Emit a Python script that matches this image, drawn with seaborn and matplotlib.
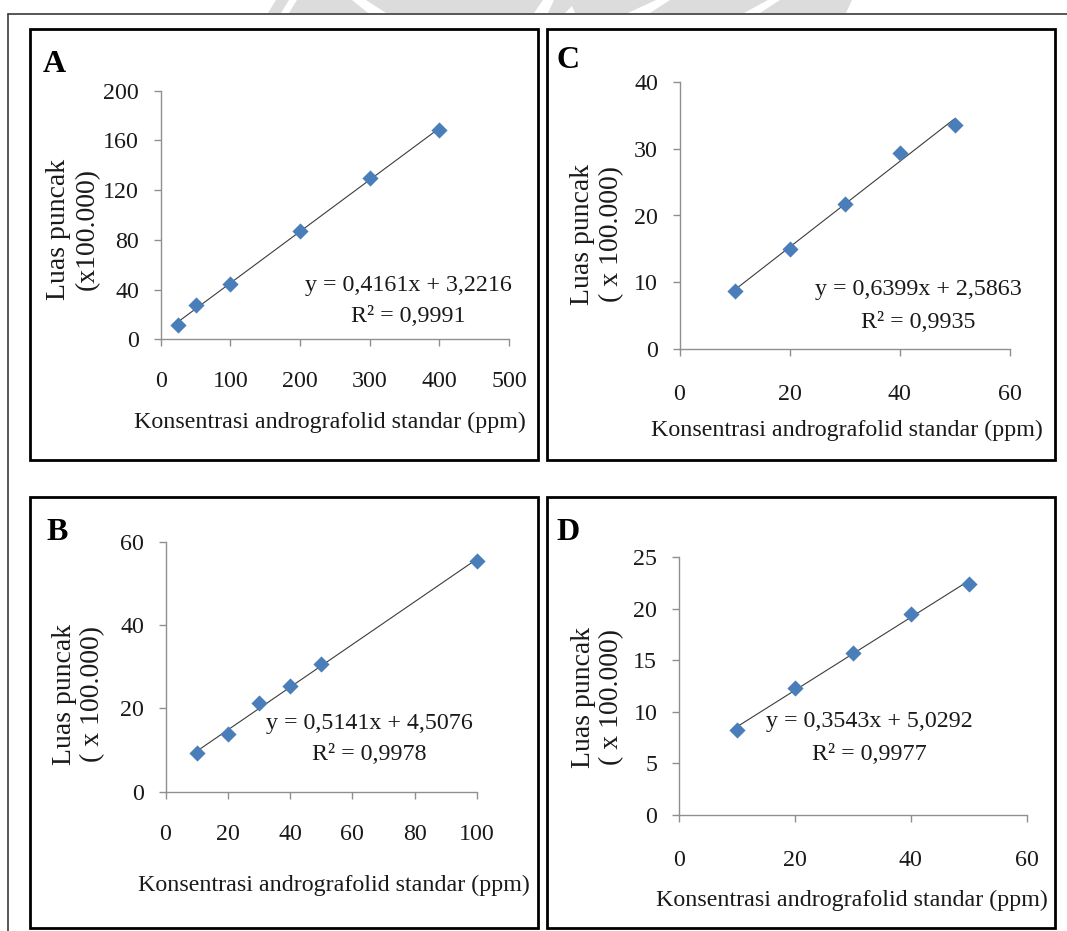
import matplotlib
matplotlib.use("Agg")
import matplotlib.pyplot as plt
from matplotlib.patches import Rectangle, Polygon
from matplotlib.lines import Line2D
import seaborn as sns
import numpy as np

# ---------------- data ----------------
panel_letters = ["A", "C", "B", "D"]

A_x = [25, 50, 100, 200, 300, 400]
A_y = [11.3, 27.4, 44.4, 87.3, 129.6, 168.5]
C_x = [10, 20, 30, 40, 50]
C_y = [8.7, 15.0, 21.7, 29.4, 33.5]
B_x = [10, 20, 30, 40, 50, 100]
B_y = [9.2, 13.8, 21.2, 25.4, 30.6, 55.4]
D_x = [10, 20, 30, 40, 50]
D_y = [8.25, 12.35, 15.7, 19.5, 22.4]

A_xticks = [0, 100, 200, 300, 400, 500]
A_yticks = [0, 40, 80, 120, 160, 200]
C_xticks = [0, 20, 40, 60]
C_yticks = [0, 10, 20, 30, 40]
B_xticks = [0, 20, 40, 60, 80, 100]
B_yticks = [0, 20, 40, 60]
D_xticks = [0, 20, 40, 60]
D_yticks = [0, 5, 10, 15, 20, 25]

A_eq = ["y = 0,4161x + 3,2216", "R² = 0,9991"]
C_eq = ["y = 0,6399x + 2,5863", "R² = 0,9935"]
B_eq = ["y = 0,5141x + 4,5076", "R² = 0,9978"]
D_eq = ["y = 0,3543x + 5,0292", "R² = 0,9977"]

A_ylabel = "Luas puncak\n(x100.000)"
other_ylabel = "Luas puncak\n( x 100.000)"
xlabel = "Konsentrasi andrografolid standar (ppm)"

# ---------------- style ----------------
sns.set_theme(style="white")
plt.rcParams["font.family"] = ["Liberation Serif", "DejaVu Serif"]
plt.rcParams["mathtext.default"] = "regular"

W, H = 1067, 931
fig = plt.figure(figsize=(W / 100, H / 100), dpi=100)
fig.patch.set_facecolor("white")


def fx(x):
    return x / W


def fy(y):
    return 1 - y / H


# watermark (light grey logo fragment above the outer frame)
wm_grey = "#dcdcdc"
fig.patches.append(Polygon([(fx(268), fy(13)), (fx(276), fy(0)), (fx(852), fy(0)),
                            (fx(846), fy(13))], closed=True, transform=fig.transFigure,
                           facecolor=wm_grey, edgecolor="none", zorder=0))
for poly in [
    [(281, 13), (289, 13), (297, 0), (289, 0)],
    [(352, 0), (366, 0), (386, 13), (368, 13)],
    [(534, 13), (548, 13), (554, 0), (543, 0)],
    [(565, 13), (575, 13), (572, 6)],
    [(628, 13), (650, 13), (670, 0), (656, 0)],
    [(744, 13), (760, 13), (780, 0), (768, 0)],
]:
    fig.patches.append(Polygon([(fx(a), fy(b)) for a, b in poly], closed=True,
                               transform=fig.transFigure, facecolor="white",
                               edgecolor="none", zorder=0.5))

# outer frame lines
fig.lines.append(Line2D([fx(8), fx(1067)], [fy(14), fy(14)], transform=fig.transFigure,
                        color="#3a3a3a", lw=1.2, zorder=1))
fig.lines.append(Line2D([fx(8), fx(8)], [fy(14), fy(931)], transform=fig.transFigure,
                        color="#3a3a3a", lw=1.2, zorder=1))

# panel boxes
boxes = {"A": (30, 29, 538, 460), "C": (547, 29, 1055, 460),
         "B": (30, 497, 538, 928), "D": (547, 497, 1055, 928)}
for k, (x0, y0, x1, y1) in boxes.items():
    fig.patches.append(Rectangle((fx(x0), fy(y1)), (x1 - x0) / W, (y1 - y0) / H,
                                 transform=fig.transFigure, facecolor="white",
                                 edgecolor="black", lw=2.0, zorder=1))

panels = [
    dict(letter="A", x=A_x, y=A_y, xt=A_xticks, yt=A_yticks, eq=A_eq, ylabel=A_ylabel,
         ax=(160.7, 90.7, 509, 339.3), xpad=17.5,
         letpos=(54, 65), ylab=(73, 229), xlab=(330, 422), eqpos=(408, 285, 317)),
    dict(letter="C", x=C_x, y=C_y, xt=C_xticks, yt=C_yticks, eq=C_eq, ylabel=other_ylabel,
         ax=(679.5, 81.7, 1009.6, 349.3), xpad=20,
         letpos=(568, 61), ylab=(597, 234), xlab=(847, 430), eqpos=(918, 290, 323)),
    dict(letter="B", x=B_x, y=B_y, xt=B_xticks, yt=B_yticks, eq=B_eq, ylabel=other_ylabel,
         ax=(165.5, 541.7, 477, 791.7), xpad=18.5,
         letpos=(57, 532), ylab=(78.5, 694), xlab=(334, 885), eqpos=(369, 723, 755)),
    dict(letter="D", x=D_x, y=D_y, xt=D_xticks, yt=D_yticks, eq=D_eq, ylabel=other_ylabel,
         ax=(678.8, 557.3, 1027, 815), xpad=20,
         letpos=(568, 532), ylab=(597.5, 697), xlab=(852, 900), eqpos=(869, 722, 755)),
]

axis_grey = "#8f8f8f"
marker_blue = "#4A7EBB"
FS = 17.3
FS_Y = 20

for p in panels:
    x0, y0, x1, y1 = p["ax"]
    ax = fig.add_axes([fx(x0), fy(y1), (x1 - x0) / W, (y1 - y0) / H], zorder=3)
    ax.patch.set_alpha(0)
    sns.regplot(x=np.array(p["x"], dtype=float), y=np.array(p["y"], dtype=float), ax=ax,
                ci=None, truncate=True, marker="D",
                scatter_kws=dict(s=68, color=marker_blue, linewidths=0, zorder=4, alpha=1,
                                 clip_on=False),
                line_kws=dict(color="#3c3c3c", lw=0.8, zorder=3))
    ax.set_xlim(p["xt"][0], p["xt"][-1])
    ax.set_ylim(p["yt"][0], p["yt"][-1])
    ax.set_xticks(p["xt"])
    ax.set_yticks(p["yt"])
    ax.set_xticklabels([str(v) for v in p["xt"]])
    ax.set_yticklabels([str(v) for v in p["yt"]])
    ax.set_xlabel("")
    ax.set_ylabel("")
    for side in ["top", "right"]:
        ax.spines[side].set_visible(False)
    for side in ["left", "bottom"]:
        ax.spines[side].set_color(axis_grey)
        ax.spines[side].set_linewidth(1.0)
    ax.tick_params(axis="both", which="major", direction="out", length=5, width=1.0,
                   color=axis_grey, labelsize=FS, labelcolor="#1a1a1a",
                   left=True, bottom=True)
    ax.tick_params(axis="x", pad=p["xpad"])
    ax.tick_params(axis="y", pad=10.5)
    ax.grid(False)

    lx, ly = p["letpos"]
    fig.text(fx(lx), fy(ly), p["letter"], ha="center", va="center", fontsize=23,
             fontweight="bold", color="black", zorder=5)
    yx, yy = p["ylab"]
    fig.text(fx(yx), fy(yy), p["ylabel"], rotation=90, ha="center", va="center",
             multialignment="center", fontsize=FS_Y, linespacing=1.2, color="#1a1a1a",
             zorder=5)
    xx, xy = p["xlab"]
    fig.text(fx(xx), fy(xy), xlabel, ha="center", va="center", fontsize=FS,
             color="#1a1a1a", zorder=5)
    ex, ey1, ey2 = p["eqpos"]
    fig.text(fx(ex), fy(ey1), p["eq"][0], ha="center", va="center", fontsize=FS,
             color="#1a1a1a", zorder=5)
    fig.text(fx(ex), fy(ey2), p["eq"][1], ha="center", va="center", fontsize=FS,
             color="#1a1a1a", zorder=5)

fig.savefig("out.png", dpi=100, facecolor="white")
